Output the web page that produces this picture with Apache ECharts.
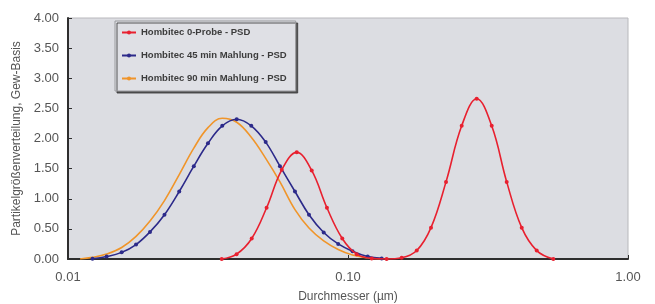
<!DOCTYPE html>
<html>
<head>
<meta charset="utf-8">
<script src="https://cdn.jsdelivr.net/npm/echarts@6/dist/echarts.min.js"></script>
<style>
  html, body { margin: 0; padding: 0; background: #fff; }
  #chart { width: 655px; height: 304px; }
</style>
</head>
<body>
<div id="chart"></div>
<script>
// Durchmesser (µm) / Verteilung
var probeX = [0.0354, 0.0400, 0.0453, 0.0512, 0.0580, 0.0656, 0.0742, 0.0841, 0.0954, 0.1074, 0.1215, 0.1374,
  0.1555, 0.1760, 0.1979, 0.2239, 0.2547, 0.2881, 0.3260, 0.3688, 0.4173, 0.4720, 0.5410]
var probeY = [0.00, 0.08, 0.34, 0.85, 1.48, 1.77, 1.47, 0.85, 0.34, 0.08, 0.01, 0.00,
  0.02, 0.14, 0.52, 1.28, 2.21, 2.66, 2.21, 1.28, 0.52, 0.14, 0.00]

var mahl45X = [0.01223, 0.01374, 0.01555, 0.0175, 0.01963, 0.02211, 0.02496, 0.02814, 0.03162, 0.03556, 0.04004,
  0.04514, 0.05082, 0.05715, 0.06466, 0.07256, 0.08189, 0.09226, 0.1038, 0.1176, 0.1319]
var mahl45Y = [0.005, 0.04, 0.11, 0.24, 0.45, 0.735, 1.12, 1.54, 1.92, 2.21, 2.32,
  2.21, 1.94, 1.54, 1.12, 0.735, 0.44, 0.25, 0.13, 0.04, 0.01]

var mahl90X = [0.01104, 0.01223, 0.01374, 0.01555, 0.0175, 0.01963, 0.02211, 0.02496, 0.02814, 0.03162, 0.03556, 0.04004,
  0.04514, 0.05082, 0.05715, 0.06466, 0.07256, 0.08189, 0.09226, 0.1038, 0.1176, 0.1319]
var mahl90Y = [0.0, 0.027, 0.082, 0.19, 0.375, 0.63, 0.97, 1.40, 1.84, 2.18, 2.335, 2.27,
  2.02, 1.67, 1.28, 0.82, 0.515, 0.30, 0.158, 0.065, 0.018, 0.005]

var seriesNames = ['Hombitec 0-Probe - PSD', 'Hombitec 45 min Mahlung - PSD', 'Hombitec 90 min Mahlung - PSD']

function pairs(xs, ys) {
  return xs.map(function (x, i) { return [x, ys[i]] })
}

var chart = echarts.init(document.getElementById('chart'))
chart.setOption({
  animation: false,
  textStyle: { fontFamily: 'Liberation Sans' },
  grid: {
    left: 68,
    right: 27,
    top: 18,
    bottom: 45,
    outerBoundsMode: 'none',
    containLabel: false,
    show: true,
    backgroundColor: '#dcdde2',
    borderColor: '#b8b8bc',
    borderWidth: 1
  },
  legend: {
    orient: 'vertical',
    left: 115,
    top: 21,
    padding: [6, 9, 7, 6],
    itemGap: 12,
    itemWidth: 14,
    itemHeight: 5,
    backgroundColor: '#dfe0e5',
    borderColor: '#9a9a9e',
    borderWidth: 1,
    shadowColor: 'rgba(60,60,60,0.85)',
    shadowOffsetX: 2,
    shadowOffsetY: 2,
    shadowBlur: 0,
    textStyle: { fontSize: 9.5, lineHeight: 11, fontWeight: 'bold', color: '#3c3c3c' },
    data: seriesNames
  },
  xAxis: {
    type: 'log',
    logBase: 10,
    min: 0.01,
    max: 1,
    name: 'Durchmesser (µm)',
    nameLocation: 'middle',
    nameGap: 32,
    nameTextStyle: { fontSize: 12, color: '#555' },
    axisLine: { lineStyle: { color: '#2e2e2e', width: 2 } },
    axisTick: { inside: true, length: 4, lineStyle: { color: '#2e2e2e' } },
    minorTick: { show: false },
    splitLine: { show: false },
    axisLabel: {
      fontSize: 13,
      color: '#555',
      margin: 12,
      formatter: function (v) { return v.toFixed(2) }
    }
  },
  yAxis: {
    type: 'value',
    min: 0,
    max: 4,
    interval: 0.5,
    name: 'Partikelgrößenverteilung, Gew-Basis',
    nameLocation: 'middle',
    nameGap: 41,
    nameTextStyle: { fontSize: 12, color: '#555' },
    axisLine: { show: true, lineStyle: { color: '#2e2e2e', width: 2 } },
    axisTick: { show: true, inside: true, length: 4, lineStyle: { color: '#2e2e2e' } },
    splitLine: { show: false },
    axisLabel: {
      fontSize: 13,
      color: '#555',
      margin: 9,
      formatter: function (v) { return v.toFixed(2) }
    }
  },
  series: [
    {
      name: seriesNames[0],
      type: 'line',
      data: pairs(probeX, probeY),
      smooth: 0.4,
      symbol: 'circle',
      symbolSize: 4,
      color: '#e8202f',
      lineStyle: { width: 1.6 },
      z: 4
    },
    {
      name: seriesNames[1],
      type: 'line',
      data: pairs(mahl45X, mahl45Y),
      smooth: 0.4,
      symbol: 'circle',
      symbolSize: 4,
      color: '#2c2a8a',
      lineStyle: { width: 1.6 },
      z: 3
    },
    {
      name: seriesNames[2],
      type: 'line',
      data: pairs(mahl90X, mahl90Y),
      smooth: 0.4,
      symbol: 'none',
      color: '#f0952a',
      lineStyle: { width: 1.6 },
      z: 2
    }
  ]
})
</script>
</body>
</html>
